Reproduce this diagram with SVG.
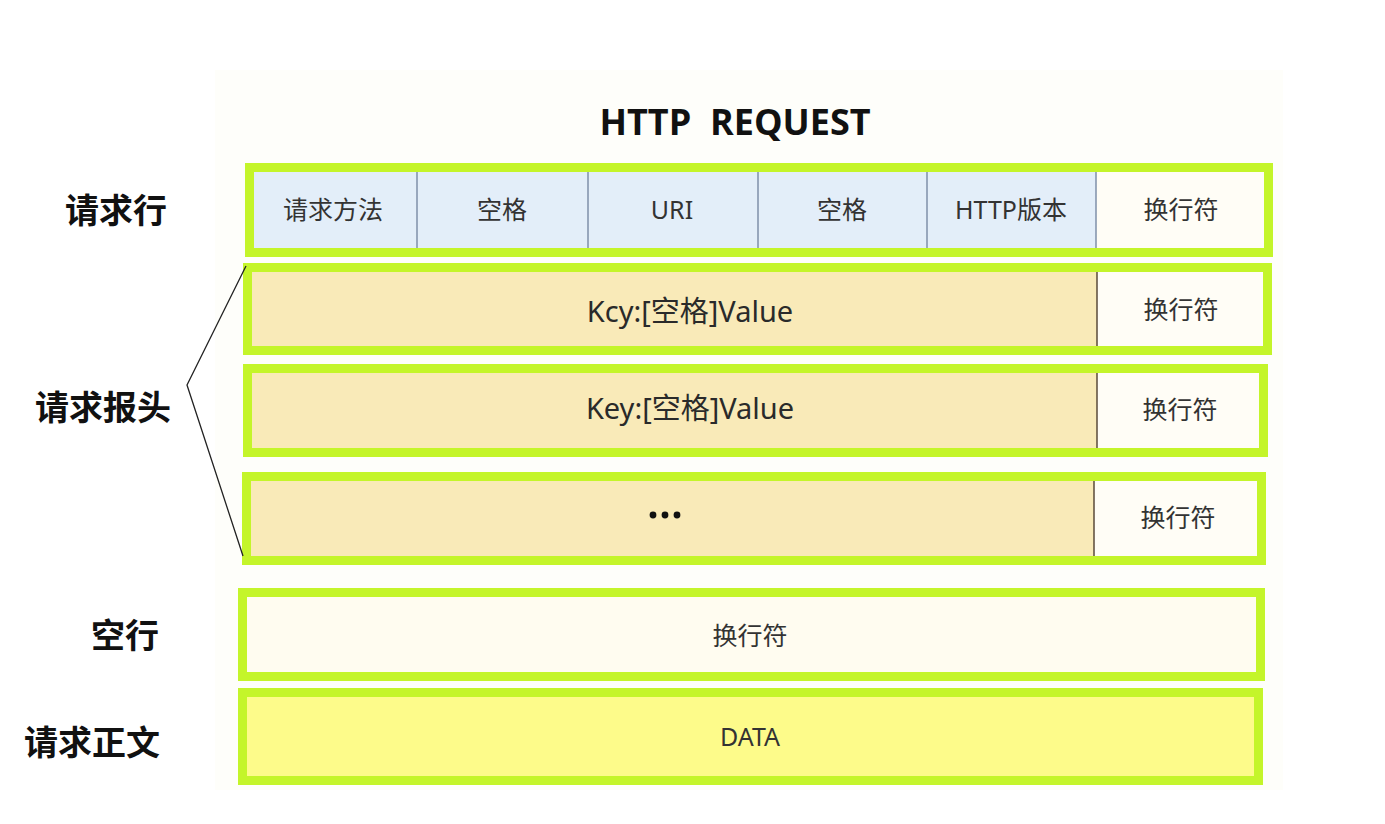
<svg xmlns="http://www.w3.org/2000/svg" width="1385" height="824" viewBox="0 0 1385 824">
  <style>
    .frame { stroke: #c4f52a; stroke-width: 9; fill: none; }
    .lbl { font-family: "Noto Sans CJK SC", "Noto Sans", sans-serif; font-weight: bold; font-size: 34px; fill: #111; text-anchor: middle; dominant-baseline: central; }
    .cell { font-family: "Noto Sans", "Noto Sans CJK SC", sans-serif; font-size: 25px; fill: #333; text-anchor: middle; dominant-baseline: central; }
    .kv { font-family: "Noto Sans", "Noto Sans CJK SC", sans-serif; font-size: 29px; fill: #2a2a2a; text-anchor: middle; dominant-baseline: central; }
    .div1 { stroke: #7f8fa8; stroke-width: 1.5; }
    .div2 { stroke: #5a4a3a; stroke-width: 1.5; }
  </style>
  <rect x="0" y="0" width="1385" height="824" fill="#ffffff"/>
  <rect x="215" y="70" width="1068" height="720" fill="#fefefa"/>

  <text x="735" y="121" font-family="Open Sans, Noto Sans, sans-serif" font-weight="bold" font-size="36" fill="#111" text-anchor="middle" dominant-baseline="central" xml:space="preserve">HTTP  REQUEST</text>

  <g id="label-request-line"><text class="lbl" x="116" y="208">请求行</text></g>
  <g id="label-request-header"><text class="lbl" x="103" y="405">请求报头</text></g>
  <g id="label-blank-line"><text class="lbl" x="125" y="633">空行</text></g>
  <g id="label-request-body"><text class="lbl" x="92" y="740">请求正文</text></g>

  <g id="row-request-line">
    <rect x="249.5" y="167.5" width="847" height="85" fill="#e3eef9"/>
    <rect x="1096" y="167.5" width="172.5" height="85" fill="#fffdf6"/>
    <line class="div1" x1="417" y1="172" x2="417" y2="249"/>
    <line class="div1" x1="588" y1="172" x2="588" y2="249"/>
    <line class="div1" x1="758" y1="172" x2="758" y2="249"/>
    <line class="div1" x1="927" y1="172" x2="927" y2="249"/>
    <line class="div1" x1="1096" y1="172" x2="1096" y2="249"/>
    <rect class="frame" x="249.5" y="167.5" width="1019" height="85"/>
    <text class="cell" x="333" y="209">请求方法</text>
    <text class="cell" x="502" y="209">空格</text>
    <text class="cell" x="672" y="209">URI</text>
    <text class="cell" x="842" y="209">空格</text>
    <text class="cell" x="1011" y="209">HTTP版本</text>
    <text class="cell" x="1181" y="209">换行符</text>
  </g>

  <g id="row-header-1">
    <rect x="247.5" y="267.5" width="850" height="83" fill="#f9eab8"/>
    <rect x="1097" y="267.5" width="170.5" height="83" fill="#fffdf6"/>
    <line class="div2" x1="1097" y1="271" x2="1097" y2="347"/>
    <rect class="frame" x="247.5" y="267.5" width="1020" height="83"/>
    <text class="kv" x="690" y="310">Kcy:[空格]Value</text>
    <text class="cell" x="1181" y="309">换行符</text>
  </g>

  <g id="row-header-2">
    <rect x="247.5" y="368.5" width="850" height="84" fill="#f9eab8"/>
    <rect x="1097" y="368.5" width="166.5" height="84" fill="#fffdf6"/>
    <line class="div2" x1="1097" y1="373" x2="1097" y2="449"/>
    <rect class="frame" x="247.5" y="368.5" width="1016" height="84"/>
    <text class="kv" x="690" y="407">Key:[空格]Value</text>
    <text class="cell" x="1180" y="409">换行符</text>
  </g>

  <g id="row-header-3">
    <rect x="246.5" y="476.5" width="848" height="84" fill="#f9eab8"/>
    <rect x="1094" y="476.5" width="167.5" height="84" fill="#fffdf6"/>
    <line class="div2" x1="1094" y1="481" x2="1094" y2="557"/>
    <rect class="frame" x="246.5" y="476.5" width="1015" height="84"/>
    <circle cx="653" cy="515" r="3.4" fill="#111"/>
    <circle cx="665" cy="515" r="3.4" fill="#111"/>
    <circle cx="677" cy="515" r="3.4" fill="#111"/>
    <text class="cell" x="1178" y="517">换行符</text>
  </g>

  <g id="row-blank">
    <rect x="242.5" y="592.5" width="1018" height="84" fill="#fffcf0"/>
    <rect class="frame" x="242.5" y="592.5" width="1018" height="84"/>
    <text class="cell" x="750" y="635">换行符</text>
  </g>

  <g id="row-body">
    <rect x="242.5" y="692.5" width="1016" height="88" fill="#fdfb8a"/>
    <rect class="frame" x="242.5" y="692.5" width="1016" height="88"/>
    <text class="cell" x="750" y="736">DATA</text>
  </g>

  <g id="connectors">
    <polyline points="246,266 187,385 243,556" fill="none" stroke="#222" stroke-width="1.3"/>
  </g>
</svg>
